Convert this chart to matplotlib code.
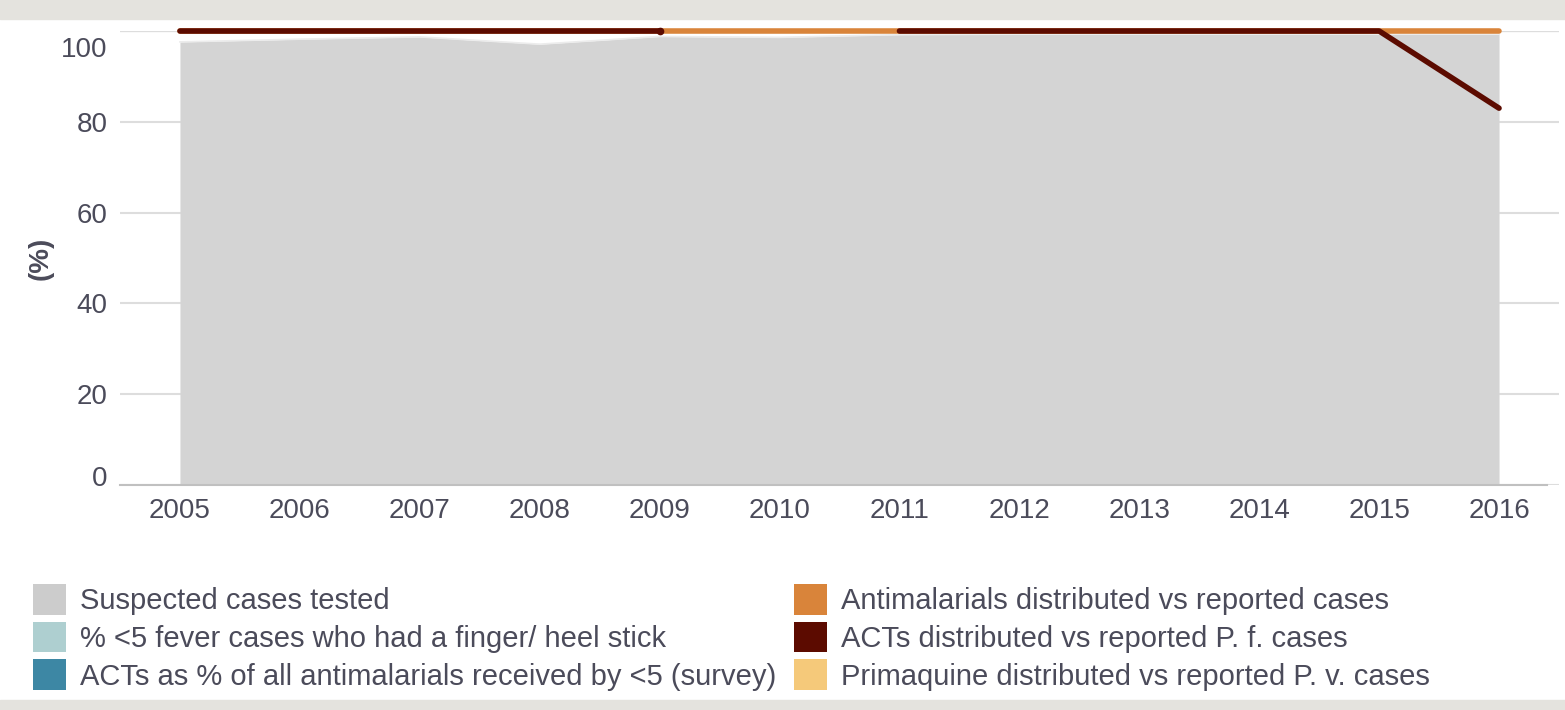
import matplotlib.pyplot as plt
import matplotlib.transforms as mtransforms
from matplotlib.patches import Patch, Rectangle
import numpy as np

plt.rcParams['font.family'] = ['Liberation Sans', 'DejaVu Sans']

# data
years = [2005, 2006, 2007, 2008, 2009, 2010, 2011, 2012, 2013, 2014, 2015, 2016]
tested = [97.6, 98.2, 98.7, 97.1, 98.8, 98.6, 99.2, 99.3, 99.3, 99.3, 99.3, 99.3]
antimalarials = [100, 100, 100, 100, 100, 100, 100, 100, 100, 100, 100, 100]
acts = [100, 100, 100, 100, 100, np.nan, 100, 100, 100, 100, 100, 83]

legend_labels = [
    'Suspected cases tested',
    '% <5 fever cases who had a finger/ heel stick',
    'ACTs as % of all antimalarials received by <5 (survey)',
    'Antimalarials distributed vs reported cases',
    'ACTs distributed vs reported P. f. cases',
    'Primaquine distributed vs reported P. v. cases',
]
legend_colors = ['#cccccc', '#aecfd0', '#3d87a4', '#d9843a', '#5c0b00', '#f5c97a']
yticks = [0, 20, 40, 60, 80, 100]

text_col = '#4b4b5a'

fig = plt.figure(figsize=(15.65, 7.1), dpi=100)
# light frame bands at top and bottom
fig.patches.append(Rectangle((0, 1 - 19 / 710), 1, 19 / 710, transform=fig.transFigure,
                             color='#e4e3de', zorder=0))
fig.patches.append(Rectangle((0, 0), 1, 10 / 710, transform=fig.transFigure,
                             color='#e4e3de', zorder=0))

ax = fig.add_axes([120 / 1565, 225 / 710, 1439 / 1565, 454 / 710])
ax.set_xlim(2004.5, 2016.5)
ax.set_ylim(0, 100)

ax.fill_between(years, tested, 0, color='#d4d4d4', lw=0, zorder=2)
ax.plot(years, tested, color='#ececec', lw=1.2, zorder=2)
ax.plot(years, antimalarials, color='#d9843a', lw=4, solid_capstyle='round',
        clip_on=False, zorder=3)
ax.plot(years, acts, color='#5c0b00', lw=4, solid_capstyle='round',
        solid_joinstyle='round', clip_on=False, zorder=4)
ax.plot(years[4], acts[4], 'o', color='#5c0b00', ms=4.5, clip_on=False, zorder=4)

for s in ['top', 'right', 'left']:
    ax.spines[s].set_visible(False)
ax.spines['bottom'].set_color('#c0c0c0')
ax.spines['bottom'].set_linewidth(1.5)
ax.spines['bottom'].set_bounds(2004.5, 2016.4)

ax.set_yticks(yticks)
ax.set_xticks(years)
ax.grid(axis='y', color='#dddddd', lw=1.5, zorder=1)
ax.axhline(100, color='#b5b5b5', lw=1.5, zorder=1)
ax.tick_params(axis='both', length=0, labelsize=20, labelcolor=text_col)
ax.tick_params(axis='y', pad=9)
ax.tick_params(axis='x', pad=9)

# shift end labels inside like the reference
ticks = ax.yaxis.get_major_ticks()
ticks[0].label1.set_transform(ticks[0].label1.get_transform() +
                              mtransforms.ScaledTranslation(0, 0.09, fig.dpi_scale_trans))
ticks[-1].label1.set_transform(ticks[-1].label1.get_transform() +
                               mtransforms.ScaledTranslation(0, -0.16, fig.dpi_scale_trans))

ax.set_ylabel('(%)', fontsize=20, fontweight='bold', color=text_col)
ax.yaxis.set_label_coords(-0.046, 0.5)

handles = [Patch(facecolor=c, edgecolor='none') for c in legend_colors]
fig.legend(handles, legend_labels, ncol=2, loc='upper left',
           bbox_to_anchor=(33 / 1565, 1 - 584 / 710), frameon=False,
           fontsize=21, labelcolor=text_col, handlelength=1.13, handleheight=1.25,
           handletextpad=0.48, columnspacing=0.6, labelspacing=0.22,
           borderaxespad=0, borderpad=0)

fig.savefig('out.png', dpi=100)
